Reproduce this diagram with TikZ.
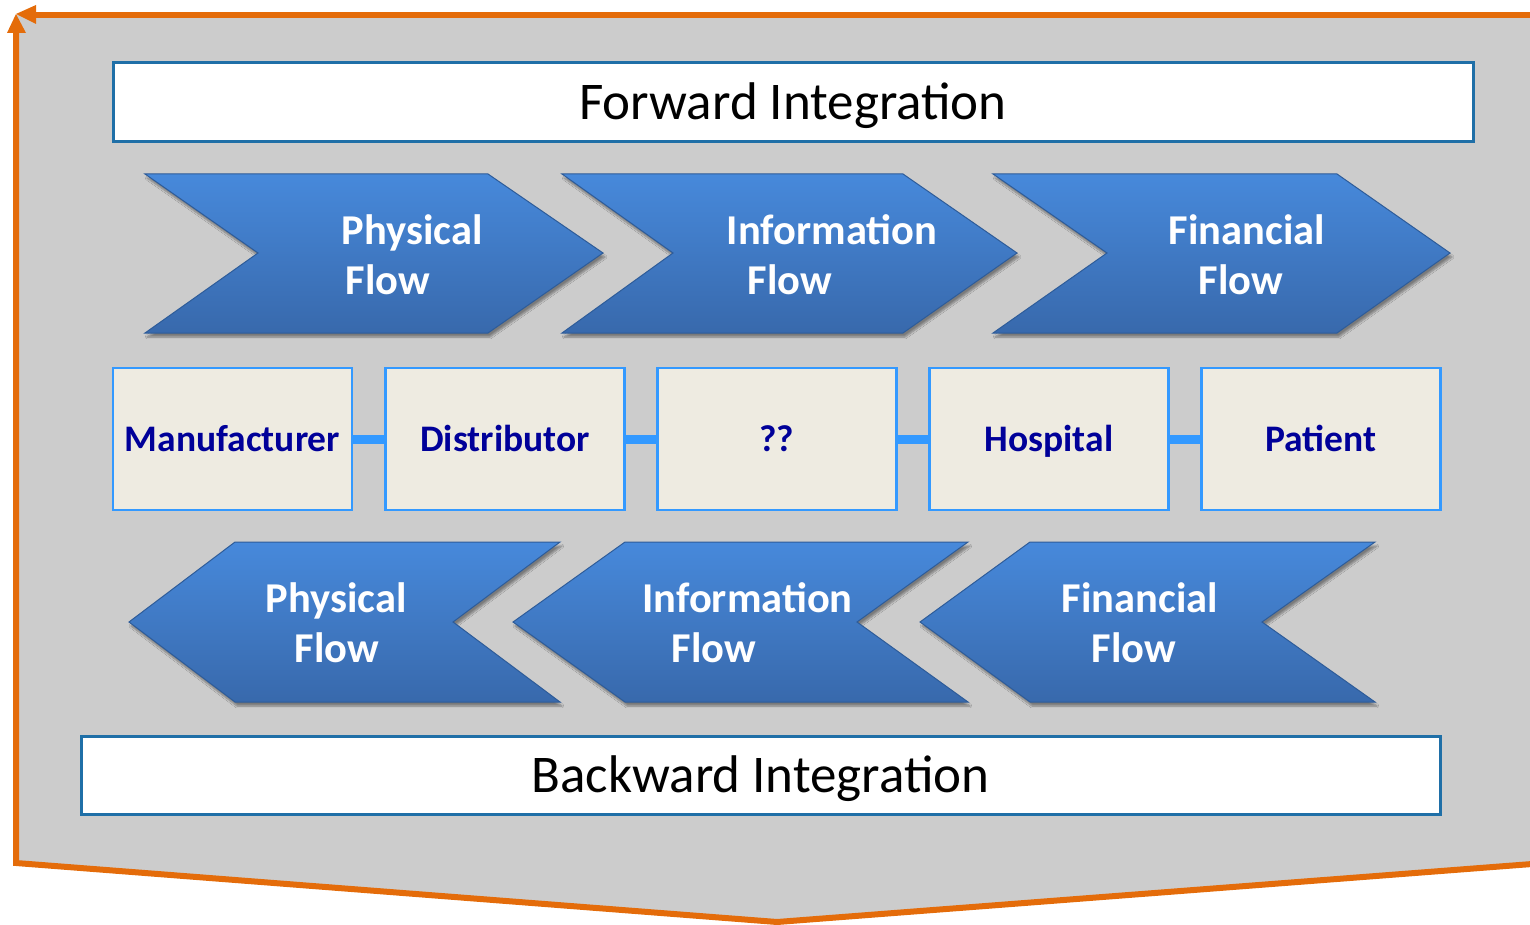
\documentclass[tikz,border=0pt]{standalone}
\usepackage{fontspec}
\setmainfont{Carlito}
\usetikzlibrary{shadows.blur}
\definecolor{bggray}{HTML}{CCCCCC}
\definecolor{orng}{HTML}{E46C0A}
\definecolor{framecol}{HTML}{1F6FA7}
\definecolor{boxfill}{HTML}{EEEBE1}
\definecolor{boxline}{HTML}{3399FF}
\definecolor{boxtext}{HTML}{000099}
\definecolor{chevtop}{HTML}{4789DB}
\definecolor{chevbot}{HTML}{3869AC}
\definecolor{chevline}{HTML}{2E5C99}
\begin{document}
\begin{tikzpicture}[x=1pt,y=-1pt,
  chevron/.style={top color=chevtop, bottom color=chevbot, draw=chevline, line width=1pt, line join=miter,
    blur shadow={shadow xshift=2pt, shadow yshift=-4pt, shadow blur steps=6, shadow opacity=40}},
  flowtext/.style={text=white, font=\bfseries\fontsize{42.5}{50}\selectfont, anchor=base, inner sep=0pt},
  integ/.style={draw=framecol, fill=white, line width=3pt, inner sep=0pt,
    font=\fontsize{53}{64}\selectfont, text height=42.4pt, text depth=8.3pt},
  actor/.style={draw=boxline, fill=boxfill, line width=2.5pt, minimum width=239pt, minimum height=142pt,
    inner sep=0pt, text=boxtext, font=\bfseries\fontsize{37.5}{45}\selectfont, text height=30pt, text depth=5.8pt},
  link/.style={draw=boxline, line width=9pt},
  outline/.style={draw=orng, line width=6pt, line join=miter}
]
\useasboundingbox (0,0) rectangle (1530,925);
% background
\fill[bggray] (16,15) -- (1530,15) -- (1530,864) -- (777,922) -- (16,863) -- cycle;
\draw[outline] (35,15) -- (1532,15);
\draw[outline] (16,32) -- (16,863) -- (777,922) -- (1532,864);
\fill[orng] (16,14) -- (36,5) -- (36,24) -- cycle;
\fill[orng] (16,14) -- (7,33) -- (26,33) -- cycle;

% integration boxes
\node[integ, minimum width=1360pt, minimum height=79pt] (fwd) at (793,102.5) {Forward Integration};
\node[integ, minimum width=1359pt, minimum height=78pt] (bwd) at (760.5,775) {Backward Integration};

% upper chevrons
\path[chevron] (145,174) -- (488,174) -- (603,253) -- (488,333) -- (145,333) -- (258,253) -- cycle;
\path[chevron] (562,174) -- (903,174) -- (1017,253) -- (903,333) -- (562,333) -- (673,253) -- cycle;
\path[chevron] (993,174) -- (1337,174) -- (1450,253) -- (1337,333) -- (993,333) -- (1107,253) -- cycle;
\node[flowtext] (u1a) at (412,244) {Physical};
\node[flowtext] (u1b) at (388,294) {Flow};
\node[flowtext] (u2a) at (832,244) {Information};
\node[flowtext] (u2b) at (790,294) {Flow};
\node[flowtext] (u3a) at (1247,244) {Financial};
\node[flowtext] (u3b) at (1241,294) {Flow};

% lower chevrons
\path[chevron] (129,622) -- (235,542) -- (560,542) -- (453,622) -- (560,702) -- (235,702) -- cycle;
\path[chevron] (513,622) -- (625,542) -- (968,542) -- (857,622) -- (968,702) -- (625,702) -- cycle;
\path[chevron] (920,622) -- (1030,542) -- (1375,542) -- (1262,622) -- (1375,702) -- (1030,702) -- cycle;
\node[flowtext] (l1a) at (336,612) {Physical};
\node[flowtext] (l1b) at (337,662) {Flow};
\node[flowtext] (l2a) at (747.5,612) {Information};
\node[flowtext] (l2b) at (714,662) {Flow};
\node[flowtext] (l3a) at (1140,612) {Financial};
\node[flowtext] (l3b) at (1134,662) {Flow};

% actors
\node[actor] (man) at (232.5,439) {Manufacturer};
\node[actor] (dis) at (505,439) {Distributor};
\node[actor] (unk) at (777,439) {??};
\node[actor] (hos) at (1049,439) {Hospital};
\node[actor] (pat) at (1321,439) {Patient};
\draw[link] (man.east) -- (dis.west);
\draw[link] (dis.east) -- (unk.west);
\draw[link] (unk.east) -- (hos.west);
\draw[link] (hos.east) -- (pat.west);
\end{tikzpicture}
\end{document}
